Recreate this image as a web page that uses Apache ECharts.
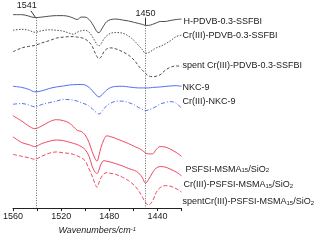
<!DOCTYPE html>
<html><head><meta charset="utf-8">
<script src="https://cdn.jsdelivr.net/npm/echarts@6/dist/echarts.min.js"></script>
<style>html,body{margin:0;padding:0;background:#fff}#c{width:317px;height:240px}</style>
</head><body><div id="c"></div>
<script>
// Wavenumbers (cm-1), shared by all spectra
const wavenumbers = [1560,1552.6,1546.9,1541.9,1536.2,1529.6,1523.9,1518.1,1513.2,1509.9,1506.6,1503.4,1500.1,1496.8,1494.3,1491.9,1490.2,1488.6,1486.9,1484.5,1482,1478.7,1474.6,1468.9,1463.9,1459,1455.7,1452.4,1450,1447.5,1444.2,1441,1437.7,1433.6,1429.5,1424.5,1420];
// Offset spectra (arbitrary units)
const hPdvb = [198,198,196.5,195,195.5,196.5,197,197,196,194.5,193,195.5,195.5,193,189,184,180.5,179.5,182,187,191,193,193.5,192.5,191.5,190,189,188,187,187,188,189.5,191,191,192,193,193.5];
const crPdvb = [182,183,182,180,181.5,182.5,182,181,179,178,180,181.5,182,180,176,171,167.5,166,168,173,176.5,179,179.7,179,176,171,166.5,162,158.5,159,161.5,164,165.5,168,171,175.5,177];
const spentCrPdvb = [160,164,165.5,166.5,169,171.5,174,175,175.5,175.5,175,174.5,173,170,166,159,155,153,154.5,160,163,164,163,160,156.5,151,145.5,141,138,135.5,134.5,135,136.5,141,144,145.5,145];
const nkc9 = [124.7,123.5,121.5,119,120,122.5,124,125,126,126.3,126.5,126.5,126,123.5,120.5,117,115,113.7,115,118,121,123.5,124.5,124.7,124,123.3,123,123,123,123,123.5,123.7,124,124.5,125,125.3,124.7];
const crNkc9 = [106.3,107,105.5,103.7,106,108,109.5,111.3,111,110.5,109.5,108,106.5,104.5,102,99,97.5,96.3,97.5,101.5,105,107.5,109.3,109.5,108,105.5,103,101,99.7,100.5,102,104,106.5,108,109,107.5,102];
const psfsi = [94.5,89,84,81.3,84,88.5,90.5,89.5,87,83.5,79.5,78.5,75,67,58,51,48,54,62,70,74,73,71.3,68.5,66,63,61.3,59,56.5,55.5,55.5,60,63,62.5,60.5,57,53];
const crPsfsi = [73,67,65,63,66,68.5,69.7,69,67.5,66.3,65,63,60,53,43,37,35.3,39,45,48.5,48,47,45.5,43,40.5,38.5,36,31,25.5,29,36,41,42.5,42,40,37,33];
const spentCrPsfsi = [55,53,51.5,50,53,56.3,57.5,56.5,56,55,53.5,51.5,48.5,40,33,25,21.3,26,31,35,36.3,35.5,34.5,31.5,28,23,18,11,6,3,7,16,21,23,22.5,20,16.5];

const seriesNames = ['H-PDVB-0.3-SSFBI','Cr(III)-PDVB-0.3-SSFBI','spent Cr(III)-PDVB-0.3-SSFBI','NKC-9','Cr(III)-NKC-9',
  'PSFSI-MSMA{s|15}/SiO{s|2}','Cr(III)-PSFSI-MSMA{s|15}/SiO{s|2}','spentCr(III)-PSFSI-MSMA{s|15}/SiO{s|2}'];
const seriesValues = [hPdvb, crPdvb, spentCrPdvb, nkc9, crNkc9, psfsi, crPsfsi, spentCrPsfsi];
const peakMarks = [1541, 1450];

const GRAY = '#4d4d4d', BLUE = '#5470f0', RED = '#f04a64';
const styles = [
  {c: GRAY, t: 'solid', off: [2, 2]},
  {c: GRAY, t: [1.5, 1.5], off: [1, 0]},
  {c: GRAY, t: [3, 2], off: [1, -1]},
  {c: BLUE, t: 'solid', off: [1, 1]},
  {c: BLUE, t: [4, 2, 1, 2], off: [1, -7]},
  {c: RED, t: 'solid', off: [4, 13]},
  {c: RED, t: 'solid', off: [2, 9]},
  {c: RED, t: [4, 2], off: [1, 9.5]}
];
const FONT = 'Arial, "Liberation Sans", sans-serif';

const series = seriesValues.map((vals, i) => ({
  name: 'S' + i,
  type: 'line',
  data: wavenumbers.map((w, k) => [w, vals[k]]),
  smooth: 0.35,
  symbol: 'none',
  lineStyle: {color: styles[i].c, width: 1, type: styles[i].t},
  itemStyle: {color: styles[i].c},
  z: 3,
  endLabel: {
    show: true,
    formatter: () => seriesNames[i],
    distance: 0,
    align: 'left',
    verticalAlign: 'middle',
    offset: styles[i].off,
    fontSize: 9,
    fontFamily: FONT,
    color: '#1a1a1a',
    rich: {s: {fontSize: 6, fontFamily: FONT, color: '#1a1a1a', verticalAlign: 'bottom', lineHeight: 6}}
  }
}));

const dotted = {color: '#666', width: 1, type: [1, 1.5]};
const solid = {color: '#333', width: 1, type: 'solid'};
series.push({
  name: 'marks', type: 'line', data: [], silent: true,
  markLine: {
    symbol: ['none', 'none'], silent: true, label: {show: false}, animation: false,
    data: [
      [{coord: [peakMarks[0], 195], lineStyle: dotted}, {coord: [peakMarks[0], 0], lineStyle: dotted}],
      [{coord: [peakMarks[1], 187], lineStyle: dotted}, {coord: [peakMarks[1], 0], lineStyle: dotted}],
      [{coord: [1545.2, 202], lineStyle: solid}, {coord: [1541.5, 195.5], lineStyle: solid}],
      [{coord: [peakMarks[1], 195], lineStyle: solid}, {coord: [peakMarks[1], 187.5], lineStyle: solid}]
    ]
  },
  markPoint: {
    symbol: 'circle', symbolSize: 0, animation: false, silent: true,
    label: {show: true, position: 'inside', fontSize: 9, fontFamily: FONT, color: '#1a1a1a'},
    data: [
      {coord: [1548.5, 207.5], label: {formatter: String(peakMarks[0])}},
      {coord: [peakMarks[1], 199.5], label: {formatter: String(peakMarks[1])}}
    ]
  }
});

const chart = echarts.init(document.getElementById('c'), null, {renderer: 'canvas'});
chart.setOption({
  animation: false,
  backgroundColor: '#fff',
  grid: {left: 11, right: 135.5, top: 0, bottom: 27, containLabel: false},
  xAxis: {
    type: 'value', inverse: true, min: 1420, max: 1560, interval: 20,
    axisLine: {show: true, onZero: false, lineStyle: {color: '#222', width: 1}},
    axisTick: {show: true, length: 3, lineStyle: {color: '#222'}},
    splitLine: {show: false},
    axisLabel: {fontSize: 9, fontFamily: FONT, color: '#1a1a1a', margin: 4,
      formatter: v => (v % 40 === 0 ? String(v) : '')},
    name: 'Wavenumbers/cm{sup|-1}', nameLocation: 'middle', nameGap: 15,
    nameTextStyle: {fontSize: 9, fontFamily: FONT, fontStyle: 'italic', color: '#1a1a1a',
      rich: {sup: {fontSize: 6, fontFamily: FONT, fontStyle: 'italic', color: '#1a1a1a', verticalAlign: 'top', lineHeight: 6}}}
  },
  yAxis: {type: 'value', min: 0, max: 213, show: false},
  series: series
});
</script>
</body></html>
